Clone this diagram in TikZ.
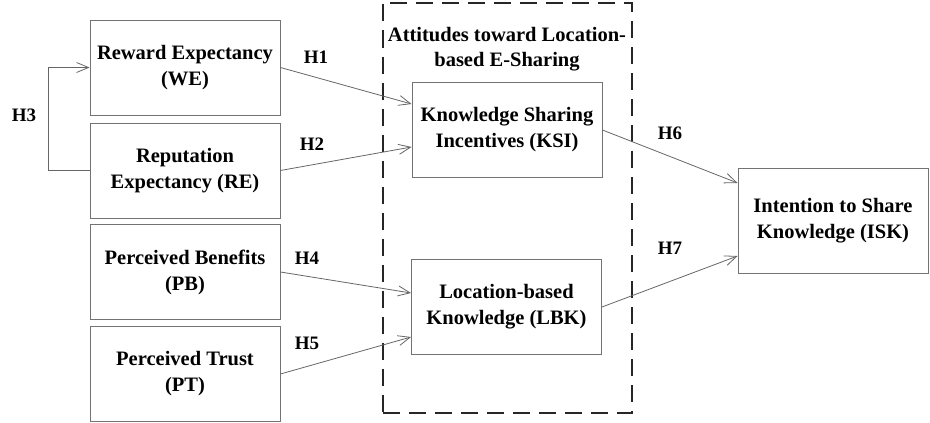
\documentclass[tikz,border=0pt]{standalone}
\usepackage{fontspec}
\setmainfont{Liberation Serif}
\usetikzlibrary{arrows.meta,calc}
\begin{document}
\begin{tikzpicture}[x=1pt,y=-1pt,
  box/.style={draw=black!55,line width=0.9pt,minimum width=190pt,minimum height=95pt,align=center,
    font=\fontsize{20.5}{26}\selectfont\bfseries,inner sep=2pt},
  hlab/.style={font=\fontsize{19}{22}\selectfont\bfseries,inner sep=0pt},
  conn/.style={draw=black!60,line width=0.8pt,-{Straight Barb[length=12pt,width=10pt,line width=0.8pt]}}
  ]
\useasboundingbox (0,0) rectangle (930,423);
\node[draw=black!85,line width=2pt,dash pattern=on 17pt off 9pt,minimum width=249pt,minimum height=410pt] (grp) at (507.5,207.5) {};
\node[align=center,font=\fontsize{20.5}{25}\selectfont\bfseries,inner sep=0pt] (grpt) at (507,49) {Attitudes toward Location-\\based E-Sharing};
\node[box] (WE) at (185,67.5) {Reward Expectancy\\(WE)};
\node[box] (RE) at (185,170.5) {Reputation\\Expectancy (RE)};
\node[box] (PB) at (185,272) {Perceived Benefits\\(PB)};
\node[box] (PT) at (185,374) {Perceived Trust\\(PT)};
\node[box] (KSI) at (507,130) {Knowledge Sharing\\Incentives (KSI)};
\node[box] (LBK) at (506.5,307) {Location-based\\Knowledge (LBK)};
\node[box,minimum height=105pt] (ISK) at (833,220.5) {Intention to Share\\Knowledge (ISK)};
\draw[conn] (WE.east) -- ([yshift=26pt]KSI.west);
\draw[conn] (RE.east) -- ([yshift=-17pt]KSI.west);
\draw[conn] (PB.east) -- ([yshift=14pt]LBK.west);
\draw[conn] (PT.east) -- ([yshift=-30pt]LBK.west);
\draw[conn] (KSI.east) -- ([yshift=37.5pt]ISK.west);
\draw[conn] (LBK.east) -- ([yshift=-35.5pt]ISK.west);
\draw[conn] (RE.west) -- ++(-41,0) coordinate (h3c) |- (WE.west);
\node[hlab] (H1) at (316,57) {H1};
\node[hlab] (H2) at (312,144) {H2};
\node[hlab] (H3) at (24,115) {H3};
\node[hlab] (H4) at (307,258) {H4};
\node[hlab] (H5) at (307,343) {H5};
\node[hlab] (H6) at (670,133) {H6};
\node[hlab] (H7) at (670,248) {H7};
\end{tikzpicture}
\end{document}
